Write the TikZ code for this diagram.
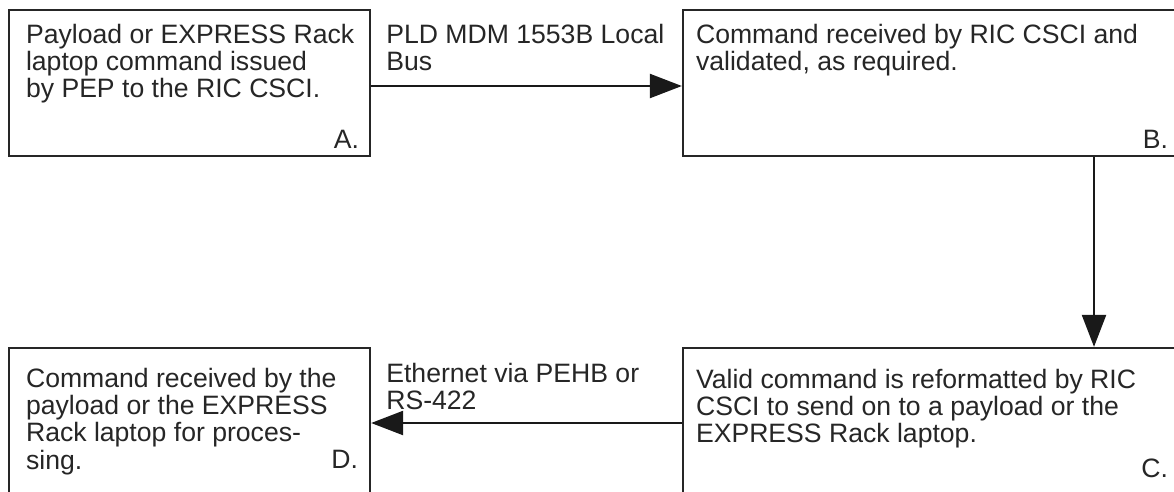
\documentclass[tikz,border=0pt]{standalone}
\usepackage{fontspec}
\setmainfont{Liberation Sans}
\usetikzlibrary{arrows.meta}
\begin{document}
\begin{tikzpicture}[x=1pt,y=-1pt,
  box/.style={draw=black!85, line width=2.3pt, rectangle, inner sep=0pt},
  txt/.style={anchor=north west, inner sep=0pt, align=left, text=black!85,
    font=\fontsize{26.6}{27.3}\selectfont},
  tag/.style={anchor=base east, inner sep=0pt, text=black!85,
    font=\fontsize{26.6}{27.3}\selectfont},
  arr/.style={draw=black!90, line width=2.3pt, -{Triangle[length=32pt,width=24pt]}}]
\clip (0,0) rectangle (1174,491);
\fill[white] (0,0) rectangle (1174,491);
% boxes
\node[box, minimum width=361pt, minimum height=146pt] (A) at (189.5,83) {};
\node[box, minimum width=496pt, minimum height=146pt] (B) at (931,83) {};
\node[box, minimum width=496pt, minimum height=153pt] (C) at (931,424.5) {};
\node[box, minimum width=361pt, minimum height=153pt] (D) at (189.5,424.5) {};
% texts
\node[txt] (At) at ([xshift=18pt,yshift=-15pt]A.north west) {Payload or EXPRESS Rack\\laptop command issued\\by PEP to the RIC CSCI.};
\node[txt] (Bt) at ([xshift=14pt,yshift=-15pt]B.north west) {Command received by RIC CSCI and\\validated, as required.};
\node[txt] (Ct) at ([xshift=14pt,yshift=-22pt]C.north west) {Valid command is reformatted by RIC\\CSCI to send on to a payload or the\\EXPRESS Rack laptop.};
\node[txt] (Dt) at ([xshift=18pt,yshift=-21pt]D.north west) {Command received by the\\payload or the EXPRESS\\Rack laptop for proces-\\sing.};
% letter tags
\node[tag] (Al) at ([xshift=-12pt,yshift=9pt]A.south east) {A.};
\node[tag] (Bl) at ([xshift=-12pt,yshift=9pt]B.south east) {B.};
\node[tag] (Cl) at ([xshift=-12pt,yshift=-131pt]C.north east) {C.};
\node[tag] (Dl) at ([xshift=-13pt,yshift=-122pt]D.north east) {D.};
% connectors
\coordinate (vx) at (1094,0);
\draw[arr] ([yshift=-3pt]A.east) -- ([yshift=-3pt]A.east -| B.west);
\draw[arr] (B.south -| vx) -- (C.north -| vx);
\draw[arr] ([yshift=1.5pt]C.west) -- ([yshift=1.5pt]C.west -| D.east);
% connector labels
\node[txt] (L1) at ([xshift=15pt,yshift=-15pt]A.north east) {PLD MDM 1553B Local\\Bus};
\node[txt] (L2) at ([xshift=15pt,yshift=-16pt]D.north east) {Ethernet via PEHB or\\RS-422};
\end{tikzpicture}
\end{document}
